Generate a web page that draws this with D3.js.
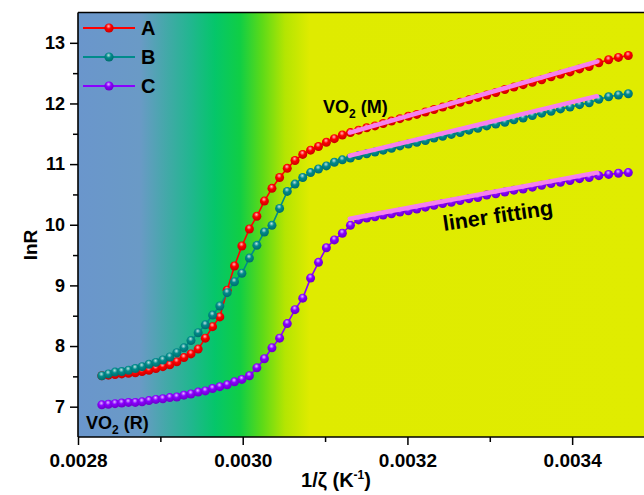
<!DOCTYPE html>
<html>
<head>
<meta charset="utf-8">
<script src="https://d3js.org/d3.v7.min.js"></script>
<style>
  body { margin: 0; background: #fff; }
  svg text { font-family: "Liberation Sans", Arial, sans-serif; font-weight: bold; fill: #000; }
</style>
</head>
<body>
<script>
// x values: 1/T (K^-1)
var invT = [0.0028289, 0.0028369, 0.0028450, 0.0028531, 0.0028613, 0.0028696, 0.0028778, 0.0028862, 0.0028946, 0.0029030,
            0.0029115, 0.0029200, 0.0029286, 0.0029372, 0.0029459, 0.0029546, 0.0029634, 0.0029722, 0.0029811, 0.0029900,
            0.0029990, 0.0030081, 0.0030172, 0.0030263, 0.0030355, 0.0030448, 0.0030541, 0.0030635, 0.0030729, 0.0030824,
            0.0030920, 0.0031016, 0.0031113, 0.0031210, 0.0031308, 0.0031407, 0.0031506, 0.0031606, 0.0031706, 0.0031807,
            0.0031909, 0.0032011, 0.0032114, 0.0032218, 0.0032323, 0.0032428, 0.0032533, 0.0032640, 0.0032747, 0.0032855,
            0.0032963, 0.0033073, 0.0033183, 0.0033293, 0.0033405, 0.0033517, 0.0033630, 0.0033744, 0.0033858, 0.0033974,
            0.0034090, 0.0034207, 0.0034324, 0.0034443, 0.0034562, 0.0034682];

// lnR for each sample
var lnA = [7.51, 7.52, 7.53, 7.54, 7.55, 7.56, 7.58, 7.60, 7.63, 7.66,
           7.69, 7.74, 7.81, 7.87, 7.95, 8.13, 8.32, 8.48, 8.92, 9.32,
           9.65, 9.93, 10.14, 10.39, 10.60, 10.78, 10.93, 11.06, 11.16, 11.23,
           11.29, 11.36, 11.42, 11.48, 11.52, 11.56, 11.60, 11.63, 11.67, 11.71,
           11.75, 11.79, 11.82, 11.86, 11.90, 11.94, 11.98, 12.02, 12.06, 12.10,
           12.14, 12.18, 12.23, 12.27, 12.31, 12.35, 12.39, 12.44, 12.48, 12.52,
           12.57, 12.61, 12.67, 12.72, 12.76, 12.79];
var lnB = [7.51, 7.54, 7.57, 7.58, 7.60, 7.63, 7.66, 7.70, 7.73, 7.77,
           7.82, 7.89, 7.97, 8.09, 8.22, 8.35, 8.51, 8.66, 8.88, 9.06,
           9.20, 9.45, 9.66, 9.88, 9.99, 10.27, 10.55, 10.67, 10.78, 10.86,
           10.92, 10.97, 11.03, 11.07, 11.10, 11.14, 11.17, 11.20, 11.23, 11.26,
           11.30, 11.33, 11.36, 11.39, 11.43, 11.46, 11.49, 11.52, 11.56, 11.59,
           11.63, 11.66, 11.69, 11.73, 11.76, 11.80, 11.84, 11.87, 11.91, 11.94,
           11.98, 12.01, 12.07, 12.11, 12.14, 12.16];
var lnC = [7.03, 7.04, 7.05, 7.06, 7.07, 7.07, 7.08, 7.10, 7.12, 7.13,
           7.15, 7.16, 7.19, 7.21, 7.24, 7.26, 7.30, 7.33, 7.36, 7.41,
           7.45, 7.51, 7.64, 7.79, 7.97, 8.13, 8.37, 8.60, 8.79, 9.12,
           9.38, 9.62, 9.75, 9.86, 9.99, 10.08, 10.11, 10.13, 10.16, 10.18,
           10.21, 10.23, 10.26, 10.29, 10.32, 10.35, 10.37, 10.40, 10.43, 10.45,
           10.49, 10.51, 10.54, 10.57, 10.59, 10.62, 10.65, 10.68, 10.70, 10.73,
           10.76, 10.78, 10.81, 10.83, 10.85, 10.86];

var seriesNames = ["A", "B", "C"];
var seriesColors = ["#ff0000", "#008b8b", "#8a00ff"];

// linear fits (start, end)
var fitX = [0.003130, 0.003430];
var fitA = [11.52, 12.69];
var fitB = [11.14, 12.12];
var fitC = [10.10, 10.86];

var xTicks = [0.0028, 0.0030, 0.0032, 0.0034];
var xMinor = [0.0029, 0.0031, 0.0033];
var yTicks = [7, 8, 9, 10, 11, 12, 13];
var yMinor = [7.5, 8.5, 9.5, 10.5, 11.5, 12.5];

var W = 644, H = 495;
var margin = {top: 12.5, left: 78, bottom: 437};
var x = d3.scaleLinear().domain([0.0028, 0.0035]).range([margin.left, margin.left + 576.5]);
var y = d3.scaleLinear().domain([6.5, 13.5]).range([margin.bottom, margin.top]);

var svg = d3.select("body").append("svg")
    .attr("width", W)
    .attr("height", H);

var defs = svg.append("defs");

// background gradient blue -> green -> yellow
var bg = defs.append("linearGradient")
    .attr("id", "bggrad")
    .attr("gradientUnits", "userSpaceOnUse")
    .attr("x1", 78).attr("x2", 644).attr("y1", 0).attr("y2", 0);
[[78, "#6a96cc"], [140, "#6a9ac6"], [165, "#45a8aa"], [190, "#22b690"], [215, "#05c66a"],
 [240, "#10ce45"], [262, "#5cda18"], [285, "#b4e502"], [310, "#dfeb00"], [644, "#e0ec00"]]
  .forEach(function(s) {
    bg.append("stop").attr("offset", (s[0] - 78) / 566).attr("stop-color", s[1]);
  });

// sphere shading for the markers
seriesColors.forEach(function(c, i) {
  var g = defs.append("radialGradient")
      .attr("id", "ball" + i)
      .attr("cx", "45%").attr("cy", "35%").attr("r", "60%")
      .attr("fx", "45%").attr("fy", "30%");
  g.append("stop").attr("offset", "0%").attr("stop-color", d3.interpolateRgb(c, "#fff")(0.75));
  g.append("stop").attr("offset", "45%").attr("stop-color", c);
  g.append("stop").attr("offset", "100%").attr("stop-color", d3.interpolateRgb(c, "#000")(0.2));
});

defs.append("clipPath").attr("id", "plotclip")
  .append("rect")
    .attr("x", margin.left).attr("y", margin.top)
    .attr("width", W - margin.left).attr("height", margin.bottom - margin.top);

svg.append("rect")
    .attr("x", margin.left).attr("y", margin.top)
    .attr("width", W - margin.left).attr("height", margin.bottom - margin.top)
    .attr("fill", "url(#bggrad)");

var plot = svg.append("g").attr("clip-path", "url(#plotclip)");

var allSeries = [lnA, lnB, lnC];
var line = d3.line()
    .x(function(d) { return x(d[0]); })
    .y(function(d) { return y(d[1]); });

allSeries.forEach(function(vals, i) {
  var pts = invT.map(function(v, j) { return [v, vals[j]]; });
  plot.append("path")
      .datum(pts)
      .attr("d", line)
      .attr("fill", "none")
      .attr("stroke", seriesColors[i])
      .attr("stroke-width", 1.6);
  plot.selectAll(".dot" + i)
    .data(pts)
    .enter().append("circle")
      .attr("class", "dot" + i)
      .attr("cx", function(d) { return x(d[0]); })
      .attr("cy", function(d) { return y(d[1]); })
      .attr("r", 4.5)
      .attr("fill", "url(#ball" + i + ")");
});

// pink fitting lines on top
[fitA, fitB, fitC].forEach(function(f) {
  plot.append("line")
      .attr("x1", x(fitX[0])).attr("y1", y(f[0]))
      .attr("x2", x(fitX[1])).attr("y2", y(f[1]))
      .attr("stroke", "#f580ee")
      .attr("stroke-width", 4.5)
      .attr("stroke-linecap", "round");
});

// axes
svg.append("g")
    .attr("class", "yaxis")
    .attr("transform", "translate(" + margin.left + ",0)")
    .call(d3.axisLeft(y).tickValues(yTicks).tickSize(8).tickPadding(5).tickFormat(d3.format("d")));
svg.append("g")
    .attr("transform", "translate(" + margin.left + ",0)")
    .call(d3.axisLeft(y).tickValues(yMinor).tickSize(5).tickFormat(""));

svg.append("g")
    .attr("class", "xaxis")
    .attr("transform", "translate(0," + margin.bottom + ")")
    .call(d3.axisBottom(x).tickValues(xTicks).tickSize(8).tickPadding(9).tickFormat(d3.format(".4f")));
svg.append("g")
    .attr("transform", "translate(0," + margin.bottom + ")")
    .call(d3.axisBottom(x).tickValues(xMinor).tickSize(5).tickFormat(""));

svg.selectAll(".tick line").attr("stroke", "#000").attr("stroke-width", 1.5);
svg.selectAll(".tick text")
    .attr("font-family", "Liberation Sans, Arial, sans-serif")
    .attr("font-weight", "bold")
    .attr("fill", "#000");
svg.selectAll(".yaxis .tick text").attr("font-size", 18);
svg.selectAll(".xaxis .tick text").attr("font-size", 19);

// frame lines (no right border, the plot runs off the page)
svg.selectAll(".domain").remove();
svg.append("line").attr("x1", margin.left).attr("x2", margin.left)
    .attr("y1", margin.top).attr("y2", margin.bottom)
    .attr("stroke", "#000").attr("stroke-width", 1.6);
svg.append("line").attr("x1", margin.left).attr("x2", W)
    .attr("y1", margin.bottom).attr("y2", margin.bottom)
    .attr("stroke", "#000").attr("stroke-width", 1.6);
svg.append("line").attr("x1", margin.left).attr("x2", W)
    .attr("y1", margin.top).attr("y2", margin.top)
    .attr("stroke", "#000").attr("stroke-width", 1.6);

// axis titles
svg.append("text")
    .attr("transform", "translate(37,245) rotate(-90)")
    .attr("text-anchor", "middle")
    .attr("font-size", 19)
    .text("lnR");

var xt = svg.append("text")
    .attr("x", 336).attr("y", 487)
    .attr("text-anchor", "middle")
    .attr("font-size", 20);
xt.append("tspan").text("1/ζ (K");
xt.append("tspan").attr("dy", -8).attr("font-size", 12).text("-1");
xt.append("tspan").attr("dy", 8).text(")");

// annotations
var vm = svg.append("text").attr("x", 323).attr("y", 113).attr("font-size", 18);
vm.append("tspan").text("VO");
vm.append("tspan").attr("dy", 5).attr("font-size", 12).text("2");
vm.append("tspan").attr("dy", -5).text(" (M)");

var vr = svg.append("text").attr("x", 86).attr("y", 429).attr("font-size", 18);
vr.append("tspan").text("VO");
vr.append("tspan").attr("dy", 5).attr("font-size", 12).text("2");
vr.append("tspan").attr("dy", -5).text(" (R)");

svg.append("text")
    .attr("transform", "translate(444,231) rotate(-8.5)")
    .attr("font-size", 21.5)
    .text("liner fitting");

// legend
var legendY = [28, 57, 86];
seriesNames.forEach(function(n, i) {
  var lg = svg.append("g");
  lg.append("line")
      .attr("x1", 83).attr("x2", 135)
      .attr("y1", legendY[i]).attr("y2", legendY[i])
      .attr("stroke", seriesColors[i])
      .attr("stroke-width", 2);
  lg.append("circle")
      .attr("cx", 109).attr("cy", legendY[i])
      .attr("r", 4.6)
      .attr("fill", "url(#ball" + i + ")");
  lg.append("text")
      .attr("x", 141).attr("y", legendY[i] + 7)
      .attr("font-size", 20)
      .text(n);
});
</script>
</body>
</html>
